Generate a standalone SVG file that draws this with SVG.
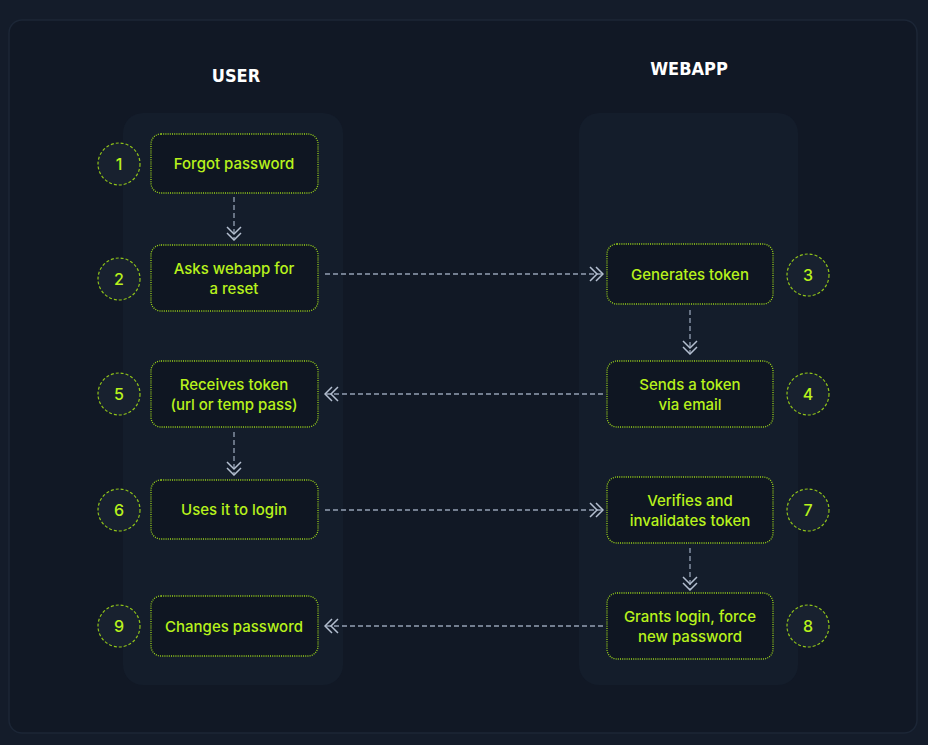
<svg xmlns="http://www.w3.org/2000/svg" width="928" height="745" viewBox="0 0 928 745">
<defs>
<style>
.lane{fill:#141d2b;}
.node rect{fill:#0f1622;stroke:#9ad21a;stroke-width:1.3;stroke-dasharray:1 1.2;}
.node text{font-family:Inter,"Noto Sans",sans-serif;font-size:15px;font-weight:500;fill:#b8f21c;text-anchor:middle;}
.num circle{fill:#18212f;stroke:#8fc21a;stroke-width:1.2;stroke-dasharray:3 2;}
.num text{font-family:Inter,"Noto Sans",sans-serif;font-size:16px;font-weight:500;fill:#b8f21c;text-anchor:middle;}
.head{font-family:"DejaVu Sans Condensed","DejaVu Sans",sans-serif;font-size:18px;font-weight:bold;fill:#ffffff;text-anchor:middle;}
.conn line{stroke:#94a0b4;stroke-width:1.3;stroke-dasharray:5 3;fill:none;}
</style>
<marker id="chev" viewBox="-1 -8 15 16" refX="13" refY="0" markerWidth="15" markerHeight="16" markerUnits="userSpaceOnUse" orient="auto">
<path d="M0,-7 L7,0 L0,7 M6,-7 L13,0 L6,7" fill="none" stroke="#b4bfd0" stroke-width="1.5"/>
</marker>
</defs>
<rect x="0" y="0" width="928" height="745" fill="#141c2a"/>
<rect x="9" y="20" width="908" height="713" rx="13" fill="#111825" stroke="#1c2636" stroke-width="1.5"/>
<rect class="lane" x="123" y="113" width="220" height="572" rx="20"/>
<rect class="lane" x="579" y="113" width="219" height="572" rx="20"/>
<text class="head" x="236" y="82">USER</text>
<text class="head" x="689" y="75">WEBAPP</text>
<g id="connectors" class="conn">
<line x1="234" y1="197" x2="234" y2="240" marker-end="url(#chev)"/>
<line x1="325" y1="274" x2="603" y2="274" marker-end="url(#chev)"/>
<line x1="690" y1="310" x2="690" y2="354" marker-end="url(#chev)"/>
<line x1="603" y1="394" x2="325" y2="394" marker-end="url(#chev)"/>
<line x1="234" y1="432" x2="234" y2="475" marker-end="url(#chev)"/>
<line x1="325" y1="510" x2="603" y2="510" marker-end="url(#chev)"/>
<line x1="690" y1="548" x2="690" y2="590" marker-end="url(#chev)"/>
<line x1="603" y1="626" x2="325" y2="626" marker-end="url(#chev)"/>
</g>
<g id="node1" class="node"><rect x="151" y="134" width="167" height="59" rx="10"/><text x="234" y="169">Forgot password</text></g>
<g id="node2" class="node"><rect x="151" y="245" width="167" height="66" rx="10"/><text x="234" y="274">Asks webapp for</text><text x="234" y="294">a reset</text></g>
<g id="node3" class="node"><rect x="607" y="244" width="166" height="60" rx="10"/><text x="690" y="280">Generates token</text></g>
<g id="node4" class="node"><rect x="607" y="361" width="166" height="66" rx="10"/><text x="690" y="390">Sends a token</text><text x="690" y="410">via email</text></g>
<g id="node5" class="node"><rect x="151" y="361" width="167" height="66" rx="10"/><text x="234" y="390">Receives token</text><text x="234" y="410">(url or temp pass)</text></g>
<g id="node6" class="node"><rect x="151" y="480" width="167" height="59" rx="10"/><text x="234" y="515">Uses it to login</text></g>
<g id="node7" class="node"><rect x="607" y="477" width="166" height="66" rx="10"/><text x="690" y="506">Verifies and</text><text x="690" y="526">invalidates token</text></g>
<g id="node8" class="node"><rect x="607" y="593" width="166" height="66" rx="10"/><text x="690" y="622">Grants login, force</text><text x="690" y="642">new password</text></g>
<g id="node9" class="node"><rect x="151" y="596" width="167" height="60" rx="10"/><text x="234" y="632">Changes password</text></g>
<g id="step1" class="num"><circle cx="119" cy="164" r="21"/><text x="119" y="170">1</text></g>
<g id="step2" class="num"><circle cx="119" cy="279" r="21"/><text x="119" y="285">2</text></g>
<g id="step3" class="num"><circle cx="808" cy="275" r="21"/><text x="808" y="281">3</text></g>
<g id="step4" class="num"><circle cx="808" cy="394" r="21"/><text x="808" y="400">4</text></g>
<g id="step5" class="num"><circle cx="119" cy="394" r="21"/><text x="119" y="400">5</text></g>
<g id="step6" class="num"><circle cx="119" cy="510" r="21"/><text x="119" y="516">6</text></g>
<g id="step7" class="num"><circle cx="808" cy="510" r="21"/><text x="808" y="516">7</text></g>
<g id="step8" class="num"><circle cx="808" cy="626" r="21"/><text x="808" y="632">8</text></g>
<g id="step9" class="num"><circle cx="119" cy="626" r="21"/><text x="119" y="632">9</text></g>
</svg>
